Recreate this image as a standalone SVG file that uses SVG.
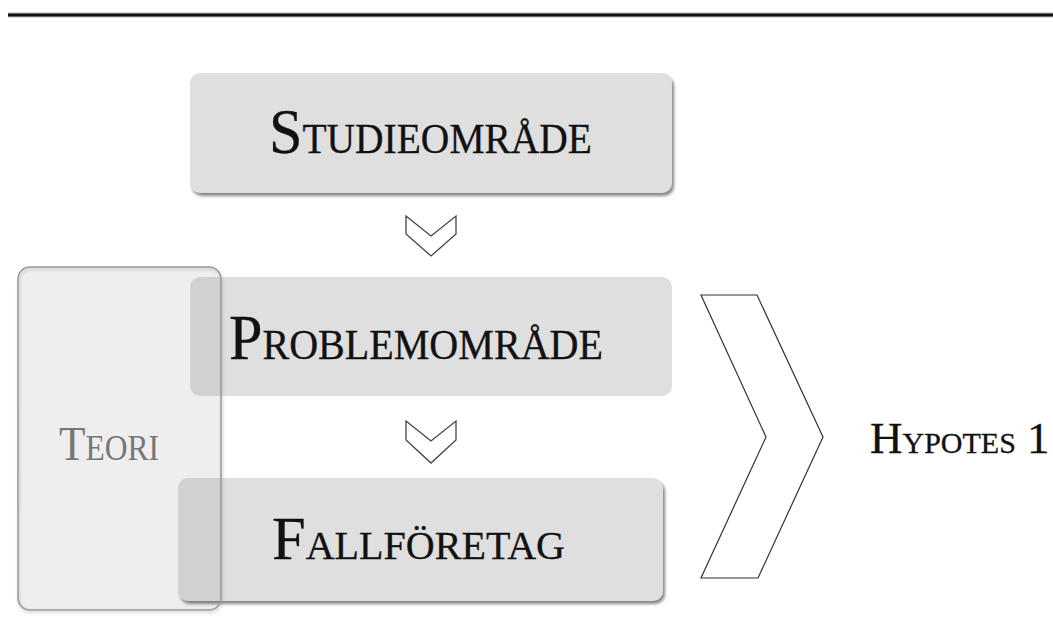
<svg xmlns="http://www.w3.org/2000/svg" width="1053" height="640" viewBox="0 0 1053 640">
<defs>
<filter id="sh" x="-5%" y="-5%" width="115%" height="120%">
<feDropShadow dx="2" dy="3" stdDeviation="1.5" flood-color="#555" flood-opacity="0.7"/>
</filter>
<filter id="sh2" x="-5%" y="-5%" width="115%" height="120%">
<feDropShadow dx="1" dy="2" stdDeviation="1.5" flood-color="#888" flood-opacity="0.5"/>
</filter>
</defs>
<style>
.box{fill:#dfdfdf}
.lbl{font-family:"Liberation Serif","Times New Roman",serif;fill:#111;stroke:#111;stroke-width:0.3}
.chev{fill:#fff;stroke:#444;stroke-width:1.3;stroke-linejoin:miter}
</style>
<rect width="1053" height="640" fill="#fff"/>
<line x1="8" y1="15" x2="1053" y2="15" stroke="#bbb" stroke-width="5"/>
<line x1="8" y1="15" x2="1053" y2="15" stroke="#111" stroke-width="3"/>

<g id="studieomrade">
<rect class="box" x="190" y="73" width="482" height="120" rx="10" filter="url(#sh)"/>
<text class="lbl" x="269" y="153" textLength="323" lengthAdjust="spacingAndGlyphs"><tspan font-size="64">S</tspan><tspan font-size="42">TUDIEOMRÅDE</tspan></text>
</g>

<g id="problemomrade">
<rect class="box" x="190" y="277" width="482" height="119" rx="10"/>
<text class="lbl" x="229" y="359" textLength="374" lengthAdjust="spacingAndGlyphs"><tspan font-size="63">P</tspan><tspan font-size="42">ROBLEMOMRÅDE</tspan></text>
</g>

<g id="fallforetag">
<rect class="box" x="178" y="478" width="485" height="123" rx="10" filter="url(#sh)"/>
<text class="lbl" x="272" y="559" textLength="293" lengthAdjust="spacingAndGlyphs"><tspan font-size="62">F</tspan><tspan font-size="41">ALLFÖRETAG</tspan></text>
</g>

<g id="teori">
<rect x="18" y="267" width="203" height="343" rx="12" fill="#000" fill-opacity="0.065" stroke="#9a9a9a" stroke-width="1.5" filter="url(#sh2)"/>
<text x="59" y="460" font-family="Liberation Serif, Times New Roman, serif" fill="#777" textLength="100" lengthAdjust="spacingAndGlyphs"><tspan font-size="48">T</tspan><tspan font-size="35">EORI</tspan></text>
</g>

<g id="hypotes">
<text class="lbl" x="870" y="453"><tspan font-size="45">H</tspan><tspan font-size="30">YPOTES</tspan><tspan font-size="45"> 1</tspan></text>
</g>

<g id="connectors">
<polygon class="chev" points="406,216 431,236 456,216 456,234 431,256 406,234"/>
<polygon class="chev" points="406,421 431,441 456,421 456,440 431,463 406,440"/>
<polygon points="701,295 757,295 823,437 758,578 701,578 766,437" fill="#fff" stroke="#333" stroke-width="1.2"/>
</g>
</svg>
